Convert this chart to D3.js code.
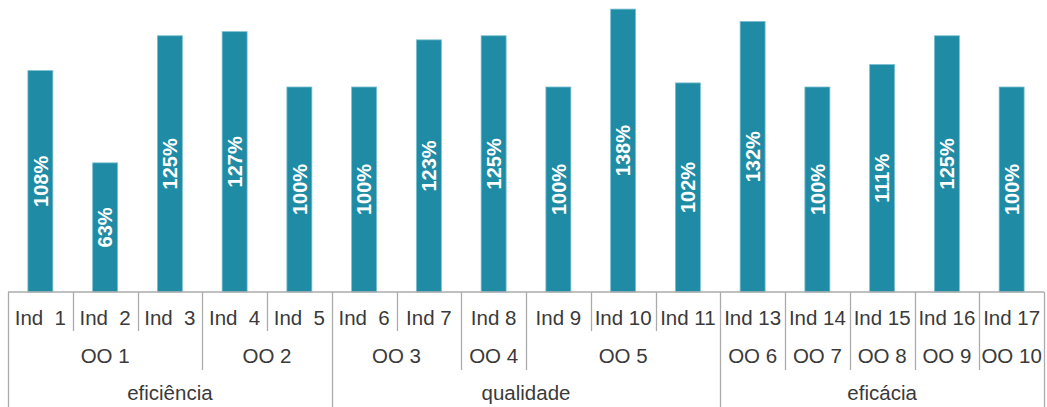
<!DOCTYPE html>
<html>
<head>
<meta charset="utf-8">
<script src="https://cdn.jsdelivr.net/npm/d3@7"></script>
<style>
  html, body { margin: 0; padding: 0; background: #fff; }
  svg { display: block; }
  text { font-family: "Liberation Sans", Arial, sans-serif; }
</style>
</head>
<body>
<div id="chart"></div>
<script>
// Indicator results grouped by operational objective and dimension
const indicators = ["Ind  1", "Ind  2", "Ind  3", "Ind  4", "Ind  5", "Ind  6", "Ind 7", "Ind 8",
                    "Ind 9", "Ind 10", "Ind 11", "Ind 13", "Ind 14", "Ind 15", "Ind 16", "Ind 17"];
const values = [1.08, 0.63, 1.25, 1.27, 1.00, 1.00, 1.23, 1.25, 1.00, 1.38, 1.02, 1.32, 1.00, 1.11, 1.25, 1.00];
const objectives = ["OO 1", "OO 1", "OO 1", "OO 2", "OO 2", "OO 3", "OO 3", "OO 4",
                    "OO 5", "OO 5", "OO 5", "OO 6", "OO 7", "OO 8", "OO 9", "OO 10"];
const dimensions = ["eficiência", "eficiência", "eficiência", "eficiência", "eficiência",
                    "qualidade", "qualidade", "qualidade", "qualidade", "qualidade", "qualidade",
                    "eficácia", "eficácia", "eficácia", "eficácia", "eficácia"];

const width = 1047, height = 407;
const left = 8, right = 1044, baseline = 292;
const barFrac = 0.386;
const lineColor = "#ababab";
const textColor = "#3a3a3a";
const fontSize = 20.5;

const svg = d3.select("#chart").append("svg")
  .attr("width", width).attr("height", height);

const x = d3.scaleBand().domain(d3.range(indicators.length)).range([left, right]).padding(0);
const y = d3.scaleLinear().domain([0, 1.4]).range([baseline, 5]);
const bw = x.bandwidth() * barFrac;
const fmt = d3.format(".0%");

// Bars
svg.append("g").selectAll("rect").data(values).join("rect")
  .attr("x", (d, i) => x(i) + (x.bandwidth() - bw) / 2)
  .attr("y", d => y(d))
  .attr("width", bw)
  .attr("height", d => baseline - y(d))
  .attr("fill", "#1f8ba5")
  .attr("stroke", "#7cc0d2")
  .attr("stroke-width", 0.8);

// Value labels, rotated inside each bar
svg.append("g").selectAll("text").data(values).join("text")
  .attr("transform", (d, i) => `translate(${x(i) + x.bandwidth() / 2},${(y(d) + baseline) / 2}) rotate(-90)`)
  .attr("text-anchor", "middle")
  .attr("dy", "0.36em")
  .attr("fill", "#fff")
  .attr("font-size", 20)
  .attr("font-weight", "bold")
  .text(d => fmt(d));

// Runs of consecutive equal entries -> spans of category indices
function runs(arr) {
  const out = [];
  arr.forEach((v, i) => {
    const last = out[out.length - 1];
    if (last && last.label === v) last.end = i;
    else out.push({ label: v, start: i, end: i });
  });
  return out;
}

const row1 = 331, row2 = 370, row3 = height;
const axis = svg.append("g");

// Baseline
axis.append("line")
  .attr("x1", left).attr("x2", right)
  .attr("y1", baseline).attr("y2", baseline)
  .attr("stroke", lineColor).attr("stroke-width", 1.3);

// Dividers: indicator, objective and dimension boundaries
const dimRuns = runs(dimensions);
const objRuns = runs(objectives);
const boundaryDepth = i => {
  if (i === 0 || i === indicators.length) return row3;
  if (dimensions[i] !== dimensions[i - 1]) return row3;
  if (objectives[i] !== objectives[i - 1]) return row2;
  return row1;
};
const edge = i => (i === indicators.length ? right : x(i));
axis.selectAll("line.div").data(d3.range(indicators.length + 1)).join("line")
  .attr("class", "div")
  .attr("x1", i => Math.round(edge(i)) + 0.5).attr("x2", i => Math.round(edge(i)) + 0.5)
  .attr("y1", baseline).attr("y2", i => boundaryDepth(i))
  .attr("stroke", lineColor).attr("stroke-width", 1.3);

// Indicator names
axis.selectAll("text.ind").data(indicators).join("text")
  .attr("class", "ind")
  .attr("x", (d, i) => x(i) + x.bandwidth() / 2)
  .attr("y", 325)
  .attr("text-anchor", "middle")
  .attr("fill", textColor)
  .attr("font-size", fontSize)
  .style("white-space", "pre")
  .text(d => d);

// Objective names
const spanCenter = r => (x(r.start) + edge(r.end + 1)) / 2;
axis.selectAll("text.obj").data(objRuns).join("text")
  .attr("class", "obj")
  .attr("x", spanCenter)
  .attr("y", 363)
  .attr("text-anchor", "middle")
  .attr("fill", textColor)
  .attr("font-size", fontSize)
  .text(r => r.label);

// Dimension names
axis.selectAll("text.dim").data(dimRuns).join("text")
  .attr("class", "dim")
  .attr("x", spanCenter)
  .attr("y", 400)
  .attr("text-anchor", "middle")
  .attr("fill", textColor)
  .attr("font-size", fontSize)
  .text(r => r.label);
</script>
</body>
</html>
